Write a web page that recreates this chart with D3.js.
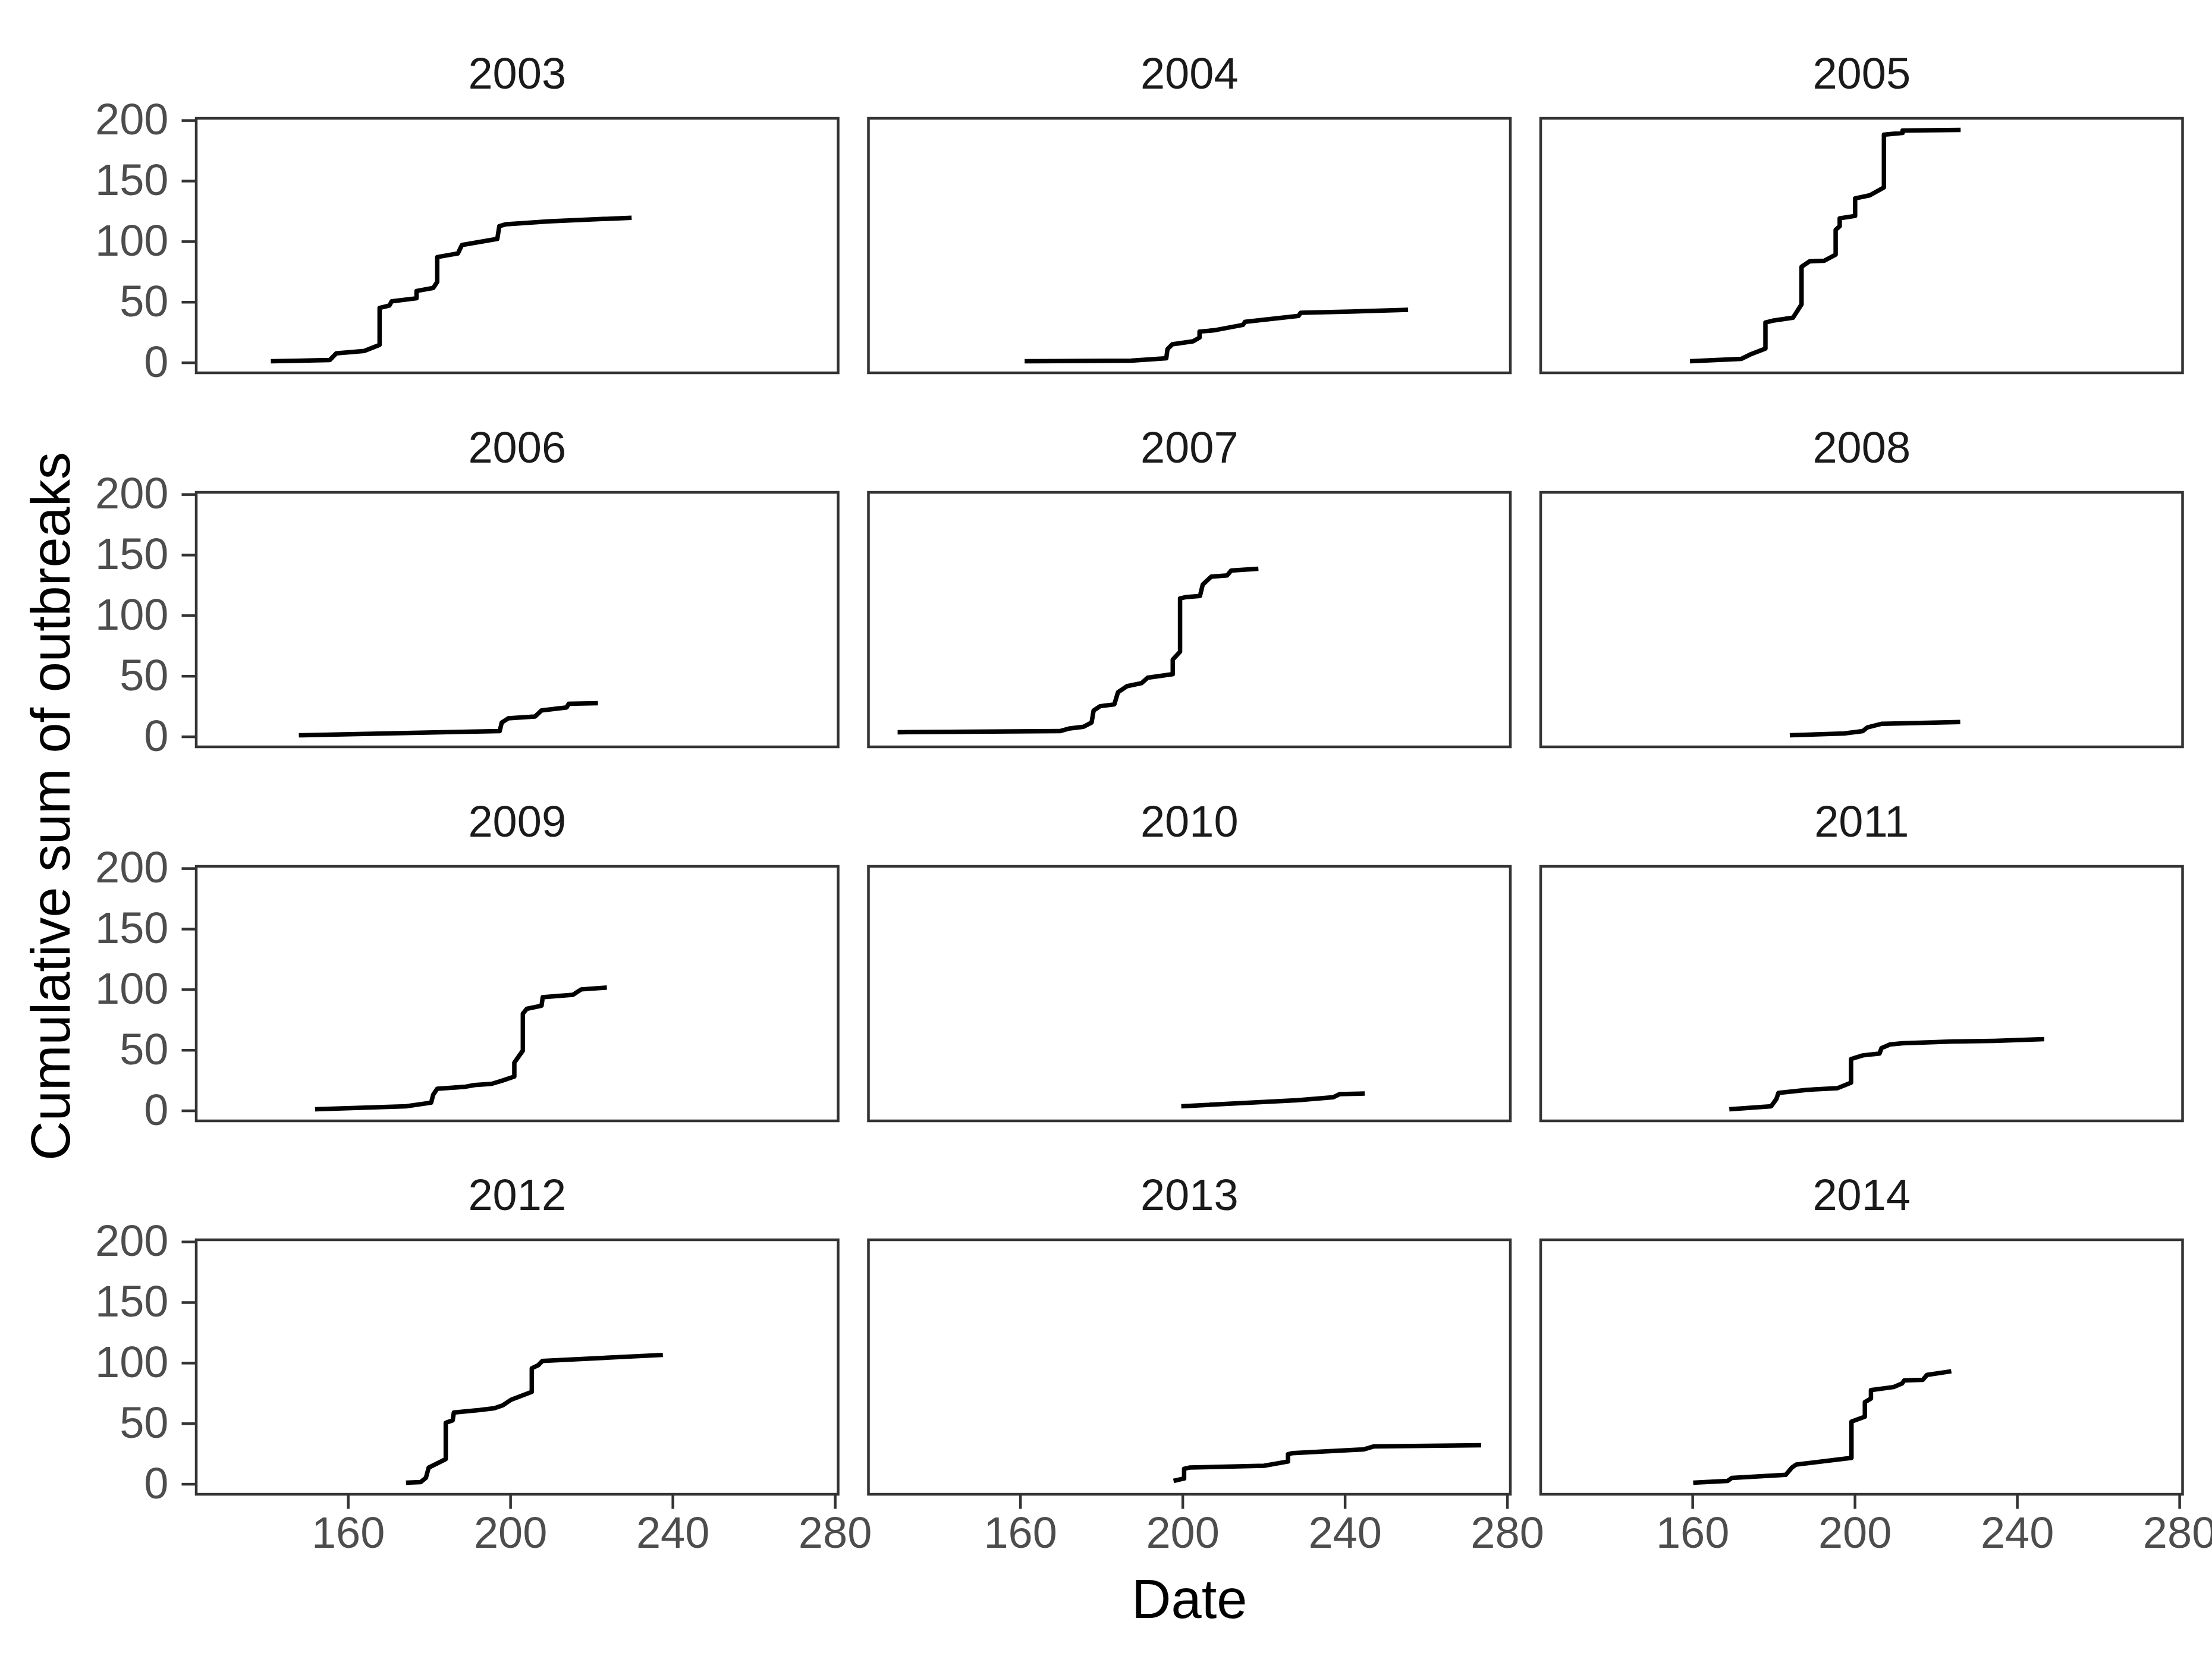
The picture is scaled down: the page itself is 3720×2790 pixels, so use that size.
<!DOCTYPE html>
<html>
<head>
<meta charset="utf-8">
<script src="https://cdn.jsdelivr.net/npm/d3@7"></script>
<style>
  html, body { margin: 0; padding: 0; background: #ffffff; }
  svg { display: block; }
  text { font-family: "Liberation Sans", Arial, sans-serif; }
</style>
</head>
<body>
<div id="chart"></div>
<script>
//** facet labels, in panel order (3 columns, 4 rows)
const years = ['2003','2004','2005','2006','2007','2008','2009','2010','2011','2012','2013','2014'];

//** cumulative sum of outbreaks per year: [day of year, cumulative count]
const y2003 = [[141.0,1],[155.5,2],[157.1,7.5],[164.0,9.5],[167.8,14.5],[167.8,45],[170.2,47],[170.8,50.5],[176.9,53],[176.9,59],[181.0,61.5],[182.0,66.5],[182.0,87],[187.1,90],[188.1,97],[196.8,102],[197.3,112.5],[198.8,114],[209.5,116.5],[229.9,119.5]];
const y2004 = [[161.1,1],[187.4,1.5],[196.0,3.5],[196.3,11],[197.5,15],[202.6,17.5],[204.2,20.5],[204.2,25.5],[207.7,26.5],[214.9,31],[215.4,33.5],[228.6,38.5],[229.1,41],[241.3,42],[255.6,43.5]];
const y2005 = [[159.4,1],[172.1,3],[174.2,6.5],[178.0,11.5],[178.0,33],[179.8,34.5],[184.8,37],[186.9,48],[186.9,79],[188.9,83.5],[192.5,84],[195.3,89],[195.3,109.5],[196.3,112.5],[196.3,119],[200.1,121],[200.1,135.5],[203.7,138],[207.2,144.5],[207.2,188],[211.8,189.5],[211.8,191.5],[226.1,192]];
const y2006 = [[147.9,1],[197.4,4.5],[197.9,11.5],[199.5,15],[206.1,16.5],[207.7,21.5],[213.9,24],[214.4,27],[221.6,27.5]];
const y2007 = [[129.8,3.5],[169.9,4.5],[172.0,6.5],[175.6,8],[177.6,11.5],[178.1,21.5],[179.7,25],[183.2,26.5],[184.1,36.5],[186.3,41.5],[189.9,44],[191.4,48.5],[197.6,51.5],[197.6,63.5],[199.4,70],[199.4,114],[200.7,115],[204.3,116],[205.0,125.5],[207.1,132],[211.0,133],[212.0,137],[218.7,138.5]];
const y2008 = [[184.0,1],[197.4,2.5],[202.0,4.5],[203.1,7.5],[206.7,10.5],[226.0,12]];
const y2009 = [[151.9,1],[174.3,3.5],[180.5,6.5],[181.0,13],[182.0,18],[188.7,19.5],[191.2,21],[195.4,22],[197.9,24.5],[201.0,28],[201.0,39.5],[203.1,49.5],[203.1,80],[204.1,84],[207.7,86.5],[208.0,93.5],[215.4,95.5],[217.5,100],[223.8,101.5]];
const y2010 = [[199.7,3.5],[228.4,8.5],[237.2,11],[238.7,13.5],[244.9,14]];
const y2011 = [[169.1,1],[179.4,3.5],[180.7,9.5],[181.2,14.5],[188.1,17],[195.8,18.5],[199.1,23],[199.1,42.5],[202.0,45.5],[206.1,47],[206.6,51.5],[208.7,54.5],[211.7,55.5],[224.1,57],[234.4,57.5],[246.7,59]];
const y2012 = [[174.3,1],[177.9,1.5],[179.2,5],[179.9,13.5],[184.1,20.5],[184.1,50.5],[185.8,52.5],[186.1,59],[192.5,61],[196.1,62.5],[198.2,65],[200.2,69.5],[205.3,76],[205.3,95.5],[206.9,98],[207.9,101.5],[237.6,106.5]];
const y2013 = [[197.8,2.5],[200.4,4.5],[200.4,12.5],[201.7,13.5],[220.1,15],[226.0,18.5],[226.0,24.5],[227.2,25.5],[244.6,28.5],[247.2,31],[273.6,32]];
const y2014 = [[160.2,1],[168.7,2.5],[169.7,5],[183.0,7.5],[184.5,13.5],[185.6,16],[199.2,21.5],[199.2,51.5],[202.5,55.5],[202.5,67.5],[204.0,70.5],[204.0,77.5],[209.6,80],[211.7,83],[212.2,85.5],[216.8,86],[217.8,90],[223.8,93]];

//** axis tick labels
const xTicks = [160, 200, 240, 280];
const yTicks = [0, 50, 100, 150, 200];

const series = [y2003, y2004, y2005, y2006, y2007, y2008, y2009, y2010, y2011, y2012, y2013, y2014];

//## layout (px)
const width = 3720, height = 2790;
const ncol = 3, nrow = 4;
const panelLeft = [330, 1460.5, 2591];
const panelTop = [199, 828, 1457, 2085];
const panelW = 1079.5, panelH = 428;
const tickLen = 24.5;
const smallFont = 74, bigFont = 92;
const borderColor = '#333333', axisTextColor = '#4D4D4D', stripColor = '#1A1A1A';

//** fixed scales shared by all facets, 5% padding like ggplot
const allPts = series.flat();
const xExt = d3.extent(allPts, d => d[0]);
const yExt = d3.extent(allPts, d => d[1]);
const xPad = (xExt[1] - xExt[0]) * 0.05, yPad = (yExt[1] - yExt[0]) * 0.05;
const x = d3.scaleLinear().domain([xExt[0] - xPad, xExt[1] + xPad]).range([0, panelW]);
const y = d3.scaleLinear().domain([yExt[0] - yPad, yExt[1] + yPad]).range([panelH, 0]);

const svg = d3.select('#chart').append('svg')
    .attr('width', width)
    .attr('height', height)
    .attr('viewBox', `0 0 ${width} ${height}`);

svg.append('rect').attr('width', width).attr('height', height).attr('fill', '#ffffff');

const line = d3.line()
    .x(d => x(d[0]))
    .y(d => y(d[1]));

//** style axis: tick marks and labels like theme_bw
const styleAxis = function (g) {
    g.select('.domain').remove();
    g.selectAll('.tick line').attr('stroke', borderColor).attr('stroke-width', 4.5);
    g.selectAll('.tick text')
        .attr('fill', axisTextColor)
        .attr('font-size', smallFont)
        .attr('font-family', '"Liberation Sans", Arial, sans-serif');
};

for (let i = 0; i < years.length; i++) {
    const col = i % ncol, row = Math.floor(i / ncol);
    const g = svg.append('g')
        .attr('transform', `translate(${panelLeft[col]},${panelTop[row]})`);

    //** strip label
    g.append('text')
        .attr('x', panelW / 2)
        .attr('y', -50)
        .attr('text-anchor', 'middle')
        .attr('font-size', smallFont)
        .attr('fill', stripColor)
        .text(years[i]);

    //** y axis on first column
    if (col === 0) {
        g.append('g')
            .call(d3.axisLeft(y).tickValues(yTicks).tickSize(tickLen).tickPadding(22).tickFormat(d3.format('d')))
            .call(styleAxis);
    }
    //** x axis on bottom row
    if (row === nrow - 1) {
        g.append('g')
            .attr('transform', `translate(0,${panelH})`)
            .call(d3.axisBottom(x).tickValues(xTicks).tickSize(tickLen).tickPadding(13).tickFormat(d3.format('d')))
            .call(styleAxis);
    }

    //** cumulative line
    g.append('path')
        .datum(series[i])
        .attr('d', line)
        .attr('fill', 'none')
        .attr('stroke', '#000000')
        .attr('stroke-width', 7.5)
        .attr('stroke-linejoin', 'round')
        .attr('stroke-linecap', 'butt');

    //** panel border
    g.append('rect')
        .attr('width', panelW)
        .attr('height', panelH)
        .attr('fill', 'none')
        .attr('stroke', borderColor)
        .attr('stroke-width', 4.5);
}

//## axis titles
svg.append('text')
    .attr('x', (panelLeft[0] + panelLeft[ncol - 1] + panelW) / 2)
    .attr('y', 2721)
    .attr('text-anchor', 'middle')
    .attr('font-size', bigFont)
    .attr('fill', '#000000')
    .text('Date');

svg.append('text')
    .attr('transform', `translate(117,${(panelTop[0] + panelTop[nrow - 1] + panelH) / 2}) rotate(-90)`)
    .attr('text-anchor', 'middle')
    .attr('font-size', bigFont)
    .attr('fill', '#000000')
    .text('Cumulative sum of outbreaks');
</script>
</body>
</html>
